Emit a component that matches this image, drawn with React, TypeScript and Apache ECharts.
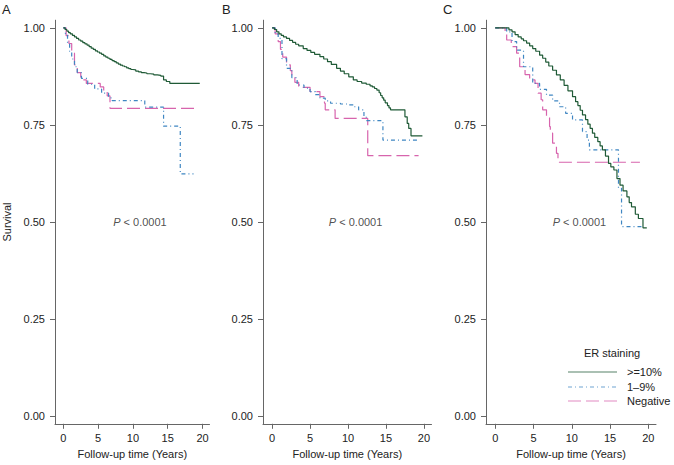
import React, { useEffect, useRef } from "react";
import * as echarts from "echarts";

// ---------- data ----------
const panelLabels = ["A", "B", "C"];
const seriesNames = [">=10%", "1\u20139%", "Negative"];
const legendTitle = "ER staining";
const xTicks = [0, 5, 10, 15, 20];
const yTicks = [0, 0.25, 0.5, 0.75, 1.0];
const pPos = [11, 0.5];

// Panel A
const greenA = [[0, 1], [0.25, 0.996], [0.5, 0.992], [0.75, 0.988], [1, 0.985], [1.3, 0.981], [1.6, 0.977], [1.9, 0.973], [2.2, 0.969], [2.5, 0.966], [2.8, 0.962], [3.1, 0.959], [3.4, 0.956], [3.7, 0.952], [4, 0.948], [4.3, 0.945], [4.6, 0.941], [4.9, 0.938], [5.2, 0.935], [5.5, 0.932], [5.8, 0.928], [6.1, 0.925], [6.4, 0.922], [6.7, 0.919], [7, 0.916], [7.3, 0.913], [7.6, 0.91], [7.9, 0.907], [8.2, 0.904], [8.5, 0.902], [8.8, 0.9], [9.1, 0.897], [9.4, 0.895], [9.7, 0.893], [10, 0.892], [10.4, 0.889], [10.8, 0.887], [11.2, 0.885], [11.6, 0.884], [12, 0.882], [12.5, 0.881], [13, 0.879], [13.5, 0.878], [14, 0.876], [14.4, 0.866], [14.8, 0.862], [15.3, 0.857], [19.6, 0.857]];
const blueA = [[0, 1], [0.3, 0.985], [0.6, 0.96], [0.9, 0.94], [1.2, 0.92], [1.6, 0.9], [2, 0.885], [2.6, 0.87], [3.5, 0.855], [4.5, 0.843], [5.5, 0.832], [6.5, 0.82], [7, 0.813], [11.7, 0.796], [14.4, 0.747], [16.8, 0.624], [18.7, 0.624]];
const pinkA = [[0, 1], [0.4, 0.98], [0.8, 0.96], [1.2, 0.935], [1.6, 0.905], [2, 0.885], [2.5, 0.866], [3.3, 0.857], [5.3, 0.848], [5.8, 0.84], [6.3, 0.825], [6.7, 0.793], [19.2, 0.793]];

// Panel B
const greenB = [[0, 1], [0.3, 0.996], [0.6, 0.99], [0.9, 0.985], [1.2, 0.981], [1.5, 0.977], [1.9, 0.973], [2.3, 0.968], [2.7, 0.963], [3.1, 0.958], [3.5, 0.954], [4.1, 0.947], [4.6, 0.942], [5.1, 0.937], [5.6, 0.932], [6.3, 0.926], [6.8, 0.92], [7.3, 0.913], [7.8, 0.906], [8.5, 0.896], [9, 0.889], [9.5, 0.882], [10.1, 0.874], [10.7, 0.866], [11.2, 0.862], [11.8, 0.858], [12.4, 0.855], [12.9, 0.851], [13.2, 0.848], [13.5, 0.844], [13.8, 0.84], [14.1, 0.833], [14.3, 0.826], [14.5, 0.82], [14.7, 0.814], [14.9, 0.807], [15.2, 0.8], [15.4, 0.794], [15.6, 0.789], [17.5, 0.771], [17.8, 0.754], [18, 0.741], [18.3, 0.722], [19.8, 0.722]];
const blueB = [[0, 1], [0.4, 0.985], [0.8, 0.973], [1.3, 0.921], [1.9, 0.896], [2.6, 0.872], [3.3, 0.853], [4.2, 0.845], [5, 0.836], [5.7, 0.828], [6.3, 0.819], [7, 0.812], [7.7, 0.806], [9, 0.804], [9.9, 0.802], [10.7, 0.797], [11.4, 0.789], [12.1, 0.77], [12.4, 0.761], [14.6, 0.711], [19.3, 0.711]];
const pinkB = [[0, 1], [0.4, 0.985], [0.8, 0.965], [1.1, 0.945], [1.4, 0.925], [1.9, 0.905], [2.4, 0.89], [2.6, 0.875], [3, 0.86], [3.5, 0.847], [5, 0.836], [6.3, 0.823], [6.9, 0.806], [7, 0.789], [8.3, 0.767], [12.6, 0.671], [19.3, 0.671]];

// Panel C
const greenC = [[0, 1], [1.5, 1], [1.8, 0.995], [2.2, 0.99], [2.6, 0.983], [3, 0.977], [3.4, 0.972], [3.7, 0.967], [4.1, 0.961], [4.5, 0.954], [4.9, 0.947], [5.3, 0.94], [5.8, 0.93], [6.2, 0.922], [6.6, 0.912], [7, 0.902], [7.5, 0.891], [8, 0.879], [8.5, 0.866], [9, 0.852], [9.5, 0.838], [10.1, 0.823], [10.5, 0.81], [10.8, 0.8], [11.1, 0.788], [11.4, 0.776], [11.8, 0.764], [12.1, 0.752], [12.4, 0.741], [12.7, 0.729], [13, 0.718], [13.4, 0.707], [13.7, 0.696], [14, 0.686], [14.4, 0.67], [14.8, 0.651], [15.1, 0.642], [15.5, 0.634], [15.9, 0.612], [16.3, 0.595], [16.7, 0.58], [17.2, 0.565], [17.5, 0.55], [17.8, 0.539], [18.3, 0.52], [18.7, 0.509], [19.3, 0.485], [19.8, 0.485]];
const blueC = [[0, 1], [1.5, 0.99], [2.2, 0.965], [2.8, 0.943], [3.7, 0.9], [4.9, 0.857], [5.8, 0.842], [6.7, 0.827], [7.5, 0.812], [8.4, 0.797], [9.2, 0.78], [10.1, 0.763], [11.4, 0.733], [12, 0.711], [12.3, 0.686], [16.1, 0.587], [16.5, 0.488], [19.1, 0.488]];
const pinkC = [[0, 1], [1.3, 0.986], [1.5, 0.969], [2.1, 0.952], [2.8, 0.935], [3.2, 0.9], [3.9, 0.88], [4.5, 0.866], [5.2, 0.857], [5.6, 0.832], [6, 0.815], [6.2, 0.789], [6.7, 0.771], [7.1, 0.746], [7.2, 0.729], [7.5, 0.703], [8, 0.677], [8.2, 0.654], [18.9, 0.654]];

const panelData = [
  [greenA, blueA, pinkA],
  [greenB, blueB, pinkB],
  [greenC, blueC, pinkC],
];

// ---------- styles ----------
const colors = ["#1f5a36", "#3f86c2", "#d764ad"];
const dashes: any[] = ["solid", [4, 3, 1, 3], [13, 5]];
const grids = [
  { left: 55, width: 154.5 },
  { left: 263, width: 168.5 },
  { left: 486, width: 170 },
];
const FONT = "'Liberation Sans', Arial, Helvetica, sans-serif";
const TEXT = "#222";
const AXIS = "#666";

export default function App() {
  const ref = useRef<HTMLDivElement>(null);
  useEffect(() => {
    if (!ref.current) return;
    const chart = echarts.init(ref.current, null, { renderer: "svg" });
    const grid = grids.map((g) => ({ left: g.left, width: g.width, top: 20.2, bottom: 41.2 }));
    const xAxis = grids.map((_, i) => ({
      type: "value",
      gridIndex: i,
      min: -1.2,
      max: 21,
      name: "Follow-up time (Years)",
      nameLocation: "middle",
      nameGap: 24,
      nameTextStyle: { fontFamily: FONT, fontSize: 11, color: TEXT },
      splitLine: { show: false },
      axisLine: { show: true, onZero: false, lineStyle: { color: AXIS, width: 1 } },
      axisTick: { show: true, length: 5, customValues: xTicks, lineStyle: { color: AXIS } },
      axisLabel: { customValues: xTicks, margin: 9, fontFamily: FONT, fontSize: 11, color: TEXT },
    }));
    const yAxis = grids.map((_, i) => ({
      type: "value",
      gridIndex: i,
      min: -0.02,
      max: 1.02,
      name: i === 0 ? "Survival" : "",
      nameLocation: "middle",
      nameGap: 43,
      nameRotate: 90,
      nameTextStyle: { fontFamily: FONT, fontSize: 11, color: TEXT },
      splitLine: { show: false },
      axisLine: { show: true, onZero: false, lineStyle: { color: AXIS, width: 1 } },
      axisTick: { show: true, length: 5, customValues: yTicks, lineStyle: { color: AXIS } },
      axisLabel: {
        customValues: yTicks,
        margin: 10,
        fontFamily: FONT,
        fontSize: 11,
        color: TEXT,
        formatter: (v: number) => v.toFixed(2),
      },
    }));
    const series: any[] = [];
    panelData.forEach((curves, p) => {
      curves.forEach((d, k) => {
        series.push({
          type: "line",
          name: seriesNames[k],
          xAxisIndex: p,
          yAxisIndex: p,
          data: d,
          step: "end",
          symbol: "none",
          showSymbol: false,
          z: 3 - k,
          lineStyle: { color: colors[k], width: 1.2, type: dashes[k] },
          itemStyle: { color: colors[k] },
        });
      });
      series.push({
        type: "scatter",
        xAxisIndex: p,
        yAxisIndex: p,
        data: [pPos],
        symbolSize: 1,
        itemStyle: { color: "rgba(0,0,0,0)" },
        silent: true,
        label: {
          show: true,
          position: "inside",
          formatter: "{i|P} < 0.0001",
          fontFamily: FONT,
          fontSize: 11,
          color: TEXT,
          rich: { i: { fontStyle: "italic", fontFamily: FONT, fontSize: 11, color: TEXT } },
        },
      });
    });
    const legendRows = [372, 387, 401];
    const legendGraphics: any[] = [];
    seriesNames.forEach((n, k) => {
      legendGraphics.push({
        type: "line",
        shape: { x1: 568, y1: legendRows[k], x2: 617, y2: legendRows[k] },
        style: { stroke: colors[k], lineWidth: 1.2, lineDash: k === 0 ? null : dashes[k], opacity: 0.75 },
      });
      legendGraphics.push({
        type: "text",
        x: 627,
        y: legendRows[k],
        style: { text: n, fontFamily: FONT, fontSize: 11, fill: TEXT, verticalAlign: "middle", align: "left" },
      });
    });
    chart.setOption({
      animation: false,
      backgroundColor: "#fff",
      grid,
      xAxis,
      yAxis,
      series,
      graphic: [
        ...panelLabels.map((t, i) => ({
          type: "text",
          left: [2, 222, 443][i],
          top: 3,
          style: { text: t, fontFamily: FONT, fontSize: 13, fill: TEXT },
        })),
        {
          type: "text",
          x: 612,
          y: 353,
          style: { text: legendTitle, fontFamily: FONT, fontSize: 11, fill: TEXT, align: "center", verticalAlign: "middle" },
        },
        ...legendGraphics,
      ],
    });
    return () => chart.dispose();
  }, []);
  return <div ref={ref} style={{ position: "absolute", left: 0, top: 0, width: 674, height: 465 }} />;
}
